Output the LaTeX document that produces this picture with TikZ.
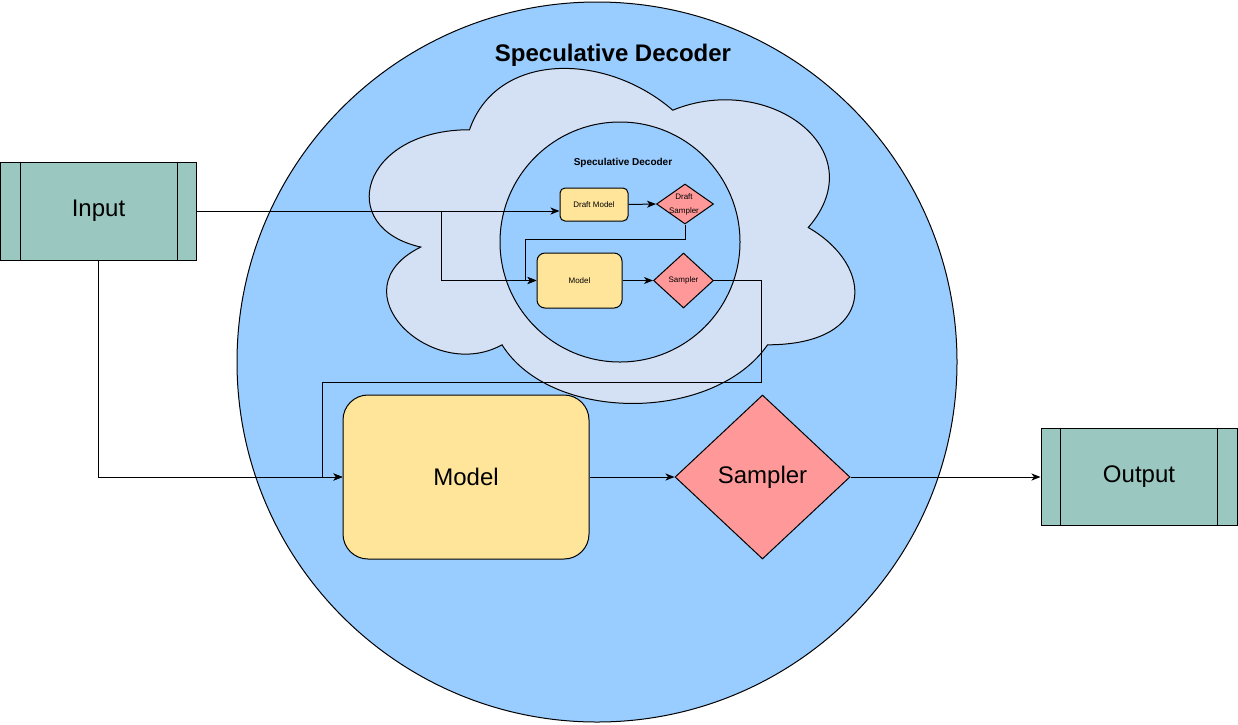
\documentclass[tikz,border=0pt]{standalone}
\usepackage{fontspec}
\setmainfont{Liberation Sans}
\usetikzlibrary{shapes.geometric,arrows.meta,calc}
\definecolor{circblue}{HTML}{99CCFF}
\definecolor{cloudfill}{HTML}{D4E1F5}
\definecolor{boxyellow}{HTML}{FFE599}
\definecolor{diared}{HTML}{FF9999}
\definecolor{procgreen}{HTML}{9AC7BF}
\tikzset{
  big/.style={font=\fontsize{24}{28}\selectfont},
  small/.style={font=\fontsize{8}{10}\selectfont},
  circ/.style={circle,draw=black,fill=circblue,line width=1pt,inner sep=0pt},
  modelbox/.style={rectangle,draw=black,fill=boxyellow,line width=1pt,inner sep=0pt},
  sampdia/.style={diamond,draw=black,fill=diared,line width=1pt,inner sep=0pt},
  procbox/.style={rectangle,draw=black,fill=procgreen,line width=1pt,inner sep=0pt},
  conn/.style={line width=1pt,draw=black},
  arr/.style={conn,-{Stealth[length=9pt,width=7pt,inset=2.5pt]}},
}
\begin{document}
\begin{tikzpicture}[x=1pt,y=-1pt]
\useasboundingbox (0,0) rectangle (1238,724);
% big circle
\node[circ,minimum size=720pt] (bigc) at (597,362) {};
\node[font=\fontsize{24}{28}\selectfont\bfseries] (title) at (613,55) {Speculative Decoder};
% cloud
\draw[fill=cloudfill,draw=black,line width=1pt]
  (469.5,129.75) .. controls (361.1,129.75) and (334,227.5) .. (420.72,247.05)
  .. controls (334,290.06) and (431.56,383.9) .. (502.02,344.8)
  .. controls (550.8,423) and (713.4,423) .. (767.6,344.8)
  .. controls (876,344.8) and (876,266.6) .. (808.25,227.5)
  .. controls (876,149.3) and (767.6,71.1) .. (672.75,110.2)
  .. controls (605,51.55) and (496.6,51.55) .. (469.5,129.75) -- cycle;
% inner circle
\node[circ,minimum size=240pt] (innc) at (620,242) {};
\node[font=\fontsize{10}{12}\selectfont\bfseries] (ititle) at (623,163) {Speculative Decoder};
% inner nodes
\node[modelbox,rounded corners=5pt,minimum width=68pt,minimum height=33pt,small] (dm) at (594,204.5) {Draft Model};
\node[sampdia,minimum width=57pt,minimum height=40pt] (ds) at (685,204) {};
\node[align=center,font=\fontsize{8}{14}\selectfont,inner sep=0pt] (dslab) at (684,204.5) {Draft\\Sampler};
\node[modelbox,rounded corners=8pt,minimum width=85pt,minimum height=55pt,small] (m2) at (579.5,280.5) {Model};
\node[sampdia,minimum width=60pt,minimum height=55pt,label={[small]center:Sampler}] (s2) at (683.5,280.5) {};
% big nodes
\node[modelbox,rounded corners=25pt,minimum width=246pt,minimum height=164pt,big] (m1) at (466,477) {Model};
\node[sampdia,minimum width=175pt,minimum height=164pt,label={[big]center:Sampler}] (s1) at (762.5,477) {};
\node[procbox,minimum width=196pt,minimum height=98pt,big] (in) at (98.5,211) {Input};
\draw[line width=1pt] ($(in.north west)+(20,0)$) -- ($(in.south west)+(20,0)$);
\draw[line width=1pt] ($(in.north east)+(-20,0)$) -- ($(in.south east)+(-20,0)$);
\node[procbox,minimum width=196pt,minimum height=97pt,big] (out) at (1139,476.5) {Output};
\draw[line width=1pt] ($(out.north west)+(20,0)$) -- ($(out.south west)+(20,0)$);
\draw[line width=1pt] ($(out.north east)+(-20,0)$) -- ($(out.south east)+(-20,0)$);
% connectors
\draw[arr] (in.east) -- (dm.west |- in.east);
\draw[arr] (in.east) -- ++(244,0) |- (m2.west);
\draw[arr] (dm.east) -- (ds.west);
\draw[arr] (ds.south) -- ++(0,15) -| ([xshift=-11pt]m2.west) -- (m2.west);
\draw[arr] (m2.east) -- (s2.west);
\draw[arr] (s2.east) -- ++(47,0) -- ++(0,102) -| ([xshift=-20pt]m1.west) -- (m1.west);
\draw[arr] (in.south) |- (m1.west);
\draw[arr] (m1.east) -- (s1.west);
\draw[arr] (s1.east) -- (out.west |- s1.east);
\end{tikzpicture}
\end{document}
